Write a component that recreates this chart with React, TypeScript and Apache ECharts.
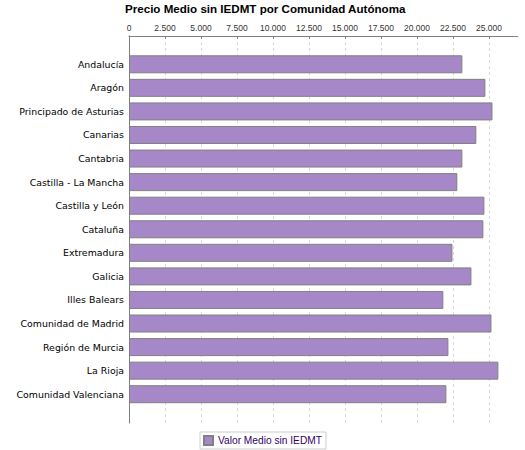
import React, { useEffect, useRef } from "react";
import * as echarts from "echarts";

const categories = [
  "Andalucía",
  "Aragón",
  "Principado de Asturias",
  "Canarias",
  "Cantabria",
  "Castilla - La Mancha",
  "Castilla y León",
  "Cataluña",
  "Extremadura",
  "Galicia",
  "Illes Balears",
  "Comunidad de Madrid",
  "Región de Murcia",
  "La Rioja",
  "Comunidad Valenciana",
];

const values = [
  23150, 24750, 25240, 24120, 23150, 22800, 24680, 24610, 22460, 23780, 21830,
  25170, 22180, 25650, 22040,
];

const tickValues = [0, 2500, 5000, 7500, 10000, 12500, 15000, 17500, 20000, 22500, 25000];
const axisMax = 27000;
const seriesName = "Valor Medio sin IEDMT";
const titleText = "Precio Medio sin IEDMT por Comunidad Autónoma";

const fmt = (v: number) => {
  const s = Math.round(v).toString();
  return s.replace(/\B(?=(\d{3})+(?!\d))/g, ".");
};

export default function App() {
  const ref = useRef<HTMLDivElement>(null);
  useEffect(() => {
    document.body.style.margin = "0";
    if (!ref.current) return;
    const chart = echarts.init(ref.current, undefined, { renderer: "svg" });
    const left = 129;
    const pxPerUnit = 0.0144;
    const fullWidth = axisMax * pxPerUnit;
    const tickMax = tickValues[tickValues.length - 1];
    const tickWidth = tickMax * pxPerUnit;
    const gray = "#808080";
    chart.setOption({
      animation: false,
      backgroundColor: "#ffffff",
      title: {
        text: titleText,
        left: 125,
        top: 2,
        padding: 0,
        textStyle: {
          fontFamily: "Liberation Sans",
          fontWeight: "bold",
          fontSize: 11.6,
          color: "#000",
        },
      },
      legend: {
        data: [seriesName],
        left: 200,
        top: 432,
        borderColor: "#cccccc",
        borderWidth: 1,
        padding: [3, 4, 3, 3],
        itemWidth: 9,
        itemHeight: 9,
        itemGap: 4,
        icon: "rect",
        textStyle: {
          fontFamily: "Liberation Sans",
          fontSize: 10.2,
          color: "#330066",
        },
      },
      grid: [
        { left, top: 36, width: fullWidth, height: 387, containLabel: false },
        { left, top: 52.5, width: fullWidth, height: 353.5, containLabel: false },
        { left, top: 36, width: tickWidth, height: 387, containLabel: false },
      ],
      xAxis: [
        {
          gridIndex: 0,
          type: "value",
          position: "top",
          min: 0,
          max: axisMax,
          axisLine: { show: true, onZero: false, lineStyle: { color: gray } },
          axisTick: { show: false },
          axisLabel: { show: false },
          splitLine: { show: false },
        },
        {
          gridIndex: 1,
          type: "value",
          min: 0,
          max: axisMax,
          show: false,
        },
        {
          gridIndex: 2,
          type: "value",
          position: "top",
          min: 0,
          max: tickMax,
          interval: tickValues[1] - tickValues[0],
          axisLine: { show: false, onZero: false },
          axisTick: { show: true, inside: true, length: 3, lineStyle: { color: gray } },
          axisLabel: {
            show: true,
            margin: 4,
            fontFamily: "Liberation Sans",
            fontSize: 8.5,
            color: "#333",
            formatter: (v: number) => fmt(v),
          },
          splitLine: {
            show: true,
            lineStyle: { color: "#d9d9d9", type: [3, 3], width: 1 },
          },
        },
      ],
      yAxis: [
        {
          gridIndex: 0,
          type: "value",
          min: 0,
          max: 1,
          axisLine: { show: true, onZero: false, lineStyle: { color: gray } },
          axisTick: { show: false },
          axisLabel: { show: false },
          splitLine: { show: false },
        },
        {
          gridIndex: 1,
          type: "category",
          inverse: true,
          data: categories,
          axisLine: { show: false },
          axisTick: { show: false },
          axisLabel: {
            margin: 5,
            fontFamily: "DejaVu Sans",
            fontSize: 9.4,
            color: "#000",
          },
          splitLine: { show: false },
        },
        {
          gridIndex: 2,
          type: "value",
          show: false,
        },
      ],
      series: [
        {
          name: seriesName,
          type: "bar",
          xAxisIndex: 1,
          yAxisIndex: 1,
          data: values,
          barWidth: 18,
          itemStyle: { color: "#a687c8", borderColor: gray, borderWidth: 1 },
        },
      ],
    });
    return () => chart.dispose();
  }, []);
  return (
    <div
      ref={ref}
      style={{ width: 525, height: 450, position: "absolute", left: 0, top: 0 }}
    />
  );
}
